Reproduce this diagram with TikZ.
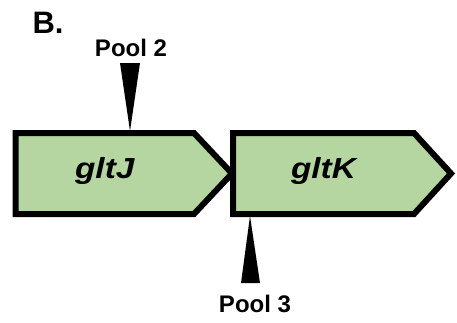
\documentclass[tikz,border=0pt]{standalone}
\usepackage{fontspec}
\setmainfont{Liberation Sans}
\usetikzlibrary{positioning}
\definecolor{Gene}{HTML}{B5D6A0}
\definecolor{Ink}{HTML}{000000}

\begin{document}
\begin{tikzpicture}[x=1pt,y=-1pt]
  \useasboundingbox (0,0) rectangle (457,322);
  \node[font=\bfseries\fontsize{31}{31}\selectfont,anchor=base] (panel) at (48,33) {B.};
  \foreach \l/\s/\t/\g in {15.5/194/232/gltJ, 233/414/451/gltK} {
    \draw[Ink,fill=Gene,line width=6pt,miter limit=10] (\l,133) -- (\s,133) -- (\t,173.5) -- (\s,214) -- (\l,214) -- cycle;
    \node[font=\bfseries\itshape\fontsize{29}{29}\selectfont,xscale=1.15,anchor=base] (\g) at ({(\l+\s)/2},178) {\g};
  }
  \node[font=\bfseries\fontsize{24}{24}\selectfont,anchor=base] (pool2) at (131,56) {Pool 2};
  \fill[Ink] (120,63) -- (140,63) -- (130,131) -- cycle;
  \fill[Ink] (241,283) -- (260,283) -- (250,216) -- cycle;
  \node[font=\bfseries\fontsize{24}{24}\selectfont,anchor=base] (pool3) at (255,312) {Pool 3};
\end{tikzpicture}
\end{document}
